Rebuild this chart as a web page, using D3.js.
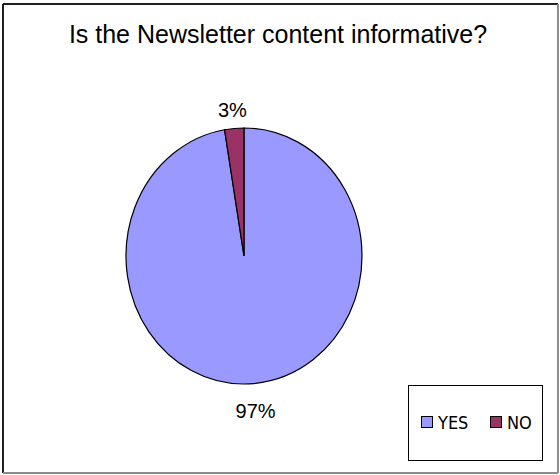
<!DOCTYPE html>
<html>
<head>
<meta charset="utf-8">
<script src="https://cdn.jsdelivr.net/npm/d3@7/dist/d3.min.js"></script>
<style>
  html, body { margin: 0; padding: 0; background: #fff; }
  svg { display: block; }
</style>
</head>
<body>
<svg id="chart" width="560" height="475"></svg>
<script>
// Survey responses
const categories = ["YES", "NO"];
const counts = [37, 1];
const colors = ["#9999FF", "#993366"];
const title = "Is the Newsletter content informative?";

const svg = d3.select("#chart");

// Outer chart frame: dark top/left edges, grey right/bottom edges
svg.append("rect")
  .attr("x", 3).attr("y", 4)
  .attr("width", 555).attr("height", 469)
  .attr("fill", "#fff");
const frame = [
  [3, 4, 558, 4, "#202020"],
  [3, 4, 3, 473, "#202020"],
  [558, 4, 558, 473, "#8c8c8c"],
  [3, 473, 558, 473, "#8c8c8c"]
];
svg.selectAll("line.frame")
  .data(frame)
  .join("line")
  .attr("class", "frame")
  .attr("x1", d => d[0]).attr("y1", d => d[1])
  .attr("x2", d => d[2]).attr("y2", d => d[3])
  .attr("stroke", d => d[4])
  .attr("stroke-width", 2);

svg.append("text")
  .attr("x", 278).attr("y", 43)
  .attr("text-anchor", "middle")
  .attr("font-family", "Liberation Sans, Arial, sans-serif")
  .attr("font-size", 25)
  .attr("fill", "#000")
  .text(title);

const data = categories.map((c, i) => ({ cat: c, value: counts[i], color: colors[i] }));
const total = d3.sum(counts);
const fmt = d3.format(".0%");

// Slices run clockwise from 12 o'clock: YES first, NO last (ends just left of top)
const pie = d3.pie()
  .value(d => d.value)
  .sort(null);

const cx = 244, cy = 256, rx = 118, ry = 128;
const arc = d3.arc().innerRadius(0).outerRadius(rx);

const g = svg.append("g")
  .attr("transform", `translate(${cx},${cy}) scale(1,${ry / rx})`);

const arcs = pie(data);
g.selectAll("path")
  .data(arcs)
  .join("path")
  .attr("d", arc)
  .attr("fill", d => d.data.color)
  .attr("stroke", "#000")
  .attr("stroke-width", 1.2)
  .attr("vector-effect", "non-scaling-stroke");

// Percentage labels outside the pie, along each slice's mid-angle
const labelOff = 22;
svg.selectAll("text.pct")
  .data(arcs)
  .join("text")
  .attr("class", "pct")
  .attr("font-family", "Liberation Sans, Arial, sans-serif")
  .attr("font-size", 20)
  .attr("text-anchor", "middle")
  .attr("x", d => {
    const a = (d.startAngle + d.endAngle) / 2;
    return cx + Math.sin(a) * (rx + labelOff);
  })
  .attr("y", d => {
    const a = (d.startAngle + d.endAngle) / 2;
    const c = Math.cos(a);
    return cy - c * (ry + labelOff) + (c > 0 ? 10 : 13);
  })
  .text(d => fmt(d.data.value / total));

// Legend
const leg = svg.append("g");
leg.append("rect")
  .attr("x", 408.5).attr("y", 385.5)
  .attr("width", 134).attr("height", 75)
  .attr("fill", "#fff")
  .attr("stroke", "#000")
  .attr("stroke-width", 1);

const legX = d3.scaleOrdinal().domain(categories).range([421, 490]);
const items = leg.selectAll("g.item")
  .data(data)
  .join("g")
  .attr("class", "item")
  .attr("transform", d => `translate(${legX(d.cat)},416)`);
items.append("rect")
  .attr("x", 0.5).attr("y", 0.5)
  .attr("width", 11).attr("height", 11)
  .attr("fill", d => d.color)
  .attr("stroke", "#000")
  .attr("stroke-width", 1);
items.append("text")
  .attr("x", 17).attr("y", 13)
  .attr("font-family", "DejaVu Sans Condensed, Liberation Sans Narrow, sans-serif")
  .attr("font-size", 18)
  .text(d => d.cat);
</script>
</body>
</html>
